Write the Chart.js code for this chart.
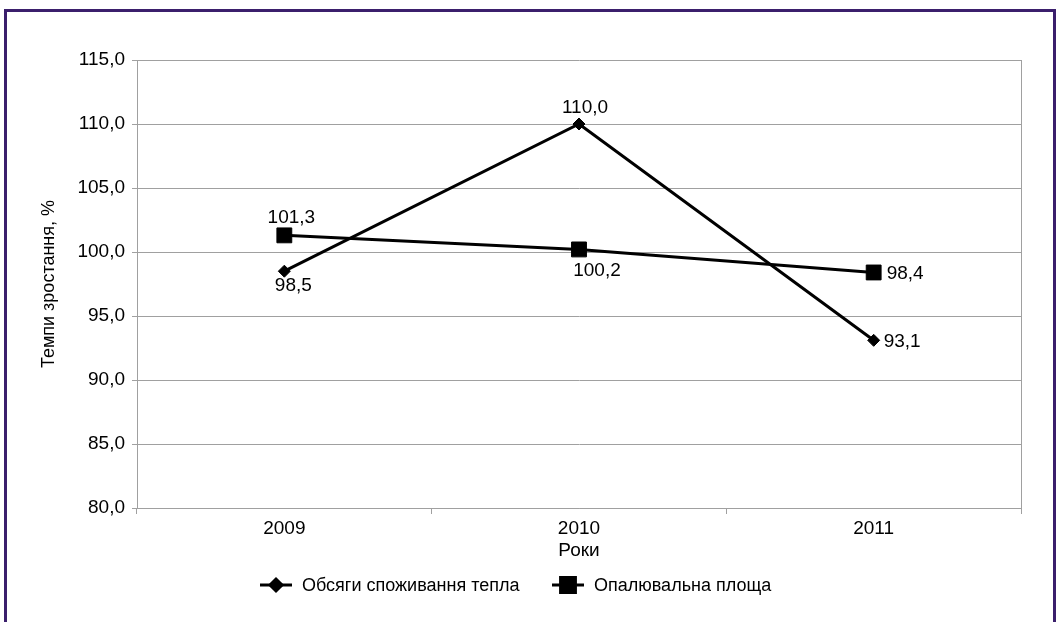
<!DOCTYPE html>
<html>
<head>
<meta charset="utf-8">
<script src="https://cdn.jsdelivr.net/npm/chart.js@4"></script>
<style>
  html, body { margin: 0; padding: 0; background: #fff; }
  #wrap { position: relative; width: 1059px; height: 622px; overflow: hidden; }
  #frame {
    position: absolute; left: 4px; top: 9px; width: 1046px; height: 700px;
    border: 3px solid #3b1f6c; pointer-events: none;
  }
  canvas { position: absolute; left: 0; top: 0; }
</style>
</head>
<body>
<div id="wrap">
  <canvas id="mixed-chart" width="1059" height="622"></canvas>
  <div id="frame"></div>
</div>
<script>
// years and growth rates, %
const years = ['2009', '2010', '2011'];
const heatUse = [98.5, 110.0, 93.1];
const heatedArea = [101.3, 100.2, 98.4];
const seriesNames = ['Обсяги споживання тепла', 'Опалювальна площа'];

const FONT = 'Liberation Sans, Arial, sans-serif';
const fmt = v => v.toFixed(1).replace('.', ',');

// label placement per point: [align, dx, dy] from the point centre
const heatUseLabelPos = [['center', 9, 15], ['center', 6, -16], ['left', 10, 1]];
const areaLabelPos = [['center', 7, -18], ['center', 18, 21], ['left', 13, 1]];

const valueLabels = {
    id: 'valueLabels',
    afterDatasetsDraw(chart) {
        const ctx = chart.ctx;
        ctx.save();
        ctx.font = '19px ' + FONT;
        ctx.fillStyle = '#000';
        ctx.textBaseline = 'middle';
        chart.data.datasets.forEach((ds, i) => {
            const meta = chart.getDatasetMeta(i);
            meta.data.forEach((pt, j) => {
                const [align, dx, dy] = ds.labelPos[j];
                ctx.textAlign = align;
                ctx.fillText(fmt(ds.data[j]), pt.x + dx, pt.y + dy);
            });
        });
        ctx.restore();
    }
};

// legend with a short line through the marker
const lineLegend = {
    id: 'lineLegend',
    afterDraw(chart) {
        const ctx = chart.ctx;
        const y = 585;
        const starts = [260, 552];
        ctx.save();
        ctx.font = '18px ' + FONT;
        ctx.textBaseline = 'middle';
        ctx.textAlign = 'left';
        chart.data.datasets.forEach((ds, i) => {
            const x0 = starts[i];
            ctx.strokeStyle = '#000';
            ctx.lineWidth = 3;
            ctx.beginPath();
            ctx.moveTo(x0, y);
            ctx.lineTo(x0 + 32, y);
            ctx.stroke();
            ctx.fillStyle = '#000';
            Chart.helpers.drawPoint(ctx, {
                pointStyle: ds.pointStyle,
                radius: ds.pointRadius,
                borderWidth: 1
            }, x0 + 16, y);
            ctx.fillText(ds.label, x0 + 42, y + 1);
        });
        ctx.restore();
    }
};

const ctx = document.getElementById('mixed-chart').getContext('2d');
const myChart = new Chart(ctx, {
    type: 'line',
    data: {
        labels: years,
        datasets: [{
            label: seriesNames[0],
            data: heatUse,
            borderColor: '#000',
            backgroundColor: '#000',
            borderWidth: 3,
            pointStyle: 'rectRot',
            pointRadius: 6,
            pointBorderWidth: 1,
            labelPos: heatUseLabelPos,
            fill: false
        }, {
            label: seriesNames[1],
            data: heatedArea,
            borderColor: '#000',
            backgroundColor: '#000',
            borderWidth: 3,
            pointStyle: 'rect',
            pointRadius: 10.5,
            pointBorderWidth: 1,
            labelPos: areaLabelPos,
            fill: false
        }]
    },
    plugins: [valueLabels, lineLegend],
    options: {
        responsive: false,
        animation: false,
        layout: { padding: { left: 36, right: 38, top: 60, bottom: 56 } },
        plugins: {
            legend: { display: false },
            tooltip: { enabled: false }
        },
        scales: {
            x: {
                offset: true,
                grid: {
                    offset: true,
                    drawOnChartArea: false,
                    color: '#a0a0a0',
                    tickLength: 6
                },
                border: { color: '#a0a0a0', width: 1 },
                ticks: { color: '#000', font: { family: FONT, size: 19 }, padding: 3 },
                title: {
                    display: true,
                    text: 'Роки',
                    color: '#000',
                    font: { family: FONT, size: 19 },
                    padding: { top: 2, bottom: 4 }
                },
                afterFit(scale) { scale.height = 58; }
            },
            y: {
                min: 80,
                max: 115,
                ticks: {
                    stepSize: 5,
                    color: '#000',
                    padding: 7,
                    font: { family: FONT, size: 19 },
                    callback: v => fmt(v)
                },
                grid: { color: '#a0a0a0', tickLength: 5 },
                border: { color: '#a0a0a0', width: 1 },
                title: {
                    display: true,
                    text: 'Темпи зростання, %',
                    color: '#000',
                    font: { family: FONT, size: 18 },
                    padding: 2
                },
                afterFit(scale) { scale.width = 101; }
            },
            yRight: {
                position: 'right',
                min: 80,
                max: 115,
                ticks: { display: false },
                grid: { drawOnChartArea: false, drawTicks: false },
                border: { color: '#a0a0a0', width: 1 },
                afterFit(scale) { scale.width = 0; }
            }
        }
    }
});
</script>
</body>
</html>
